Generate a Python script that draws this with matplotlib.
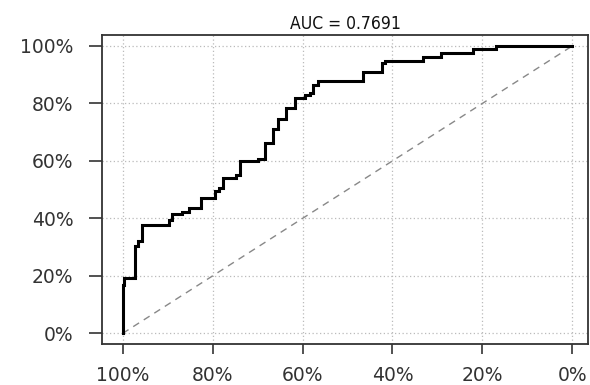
import matplotlib
matplotlib.use("Agg")
import matplotlib.pyplot as plt
from matplotlib.ticker import FuncFormatter

# ROC points (specificity %, sensitivity %)
specificity = [100, 100, 99.6, 97.3, 96.7, 95.6, 89.6, 89.1, 86.9, 85.3, 82.6,
               79.5, 78.5, 77.8, 74.7, 73.9, 69.9, 68.4, 66.5, 65.4, 63.6,
               61.7, 59.5, 58.4, 57.6, 56.5, 46.5, 42.4, 41.7, 33.2, 29.1,
               22.1, 16.9, 0]
sensitivity = [0, 17.0, 19.3, 30.5, 32.3, 37.8, 39.5, 41.5, 42.1, 43.6, 47.1,
               49.4, 50.6, 54.1, 55.2, 59.9, 60.7, 66.3, 71.2, 74.7, 78.5,
               82.0, 82.8, 83.7, 86.3, 87.8, 90.8, 94.0, 94.7, 96.3, 97.5,
               99.1, 100, 100]
auc = 0.7691
tick_values = [0, 20, 40, 60, 80, 100]

fig = plt.figure(figsize=(5.9, 3.85), dpi=100)
ax = fig.add_axes([0.1729, 0.1065, 0.8245, 0.8025])

# grid like R's grid()
for v in tick_values:
    ax.axvline(v, color="#bbbbbb", lw=0.9, ls=(0, (1, 2)), zorder=0)
    ax.axhline(v, color="#bbbbbb", lw=0.9, ls=(0, (1, 2)), zorder=0)

# chance line
ax.plot([100, 0], [0, 100], color="#888888", lw=1.0, ls=(0, (5, 4)), zorder=1)

# the ROC curve
ax.plot(specificity, sensitivity, drawstyle="steps-post", color="black",
        lw=2.2, solid_joinstyle="miter", zorder=2)

ax.set_xlim(104.6, -3.6)
ax.set_ylim(-3.7, 103.8)
ax.set_xticks(tick_values)
ax.set_yticks(tick_values)
pct = FuncFormatter(lambda v, p: f"{v:.0f}%")
ax.xaxis.set_major_formatter(pct)
ax.yaxis.set_major_formatter(pct)

ax.tick_params(axis="x", length=7.5, width=1.2, color="#333333", pad=8,
               labelsize=13.5, labelcolor="#333333")
ax.tick_params(axis="y", length=9.5, width=1.2, color="#333333", pad=11,
               labelsize=13.5, labelcolor="#333333")

for s in ax.spines.values():
    s.set_color("#333333")
    s.set_linewidth(1.3)

ax.set_title(f"AUC = {auc}", fontsize=12.5, pad=4, fontstretch="condensed",
             family="DejaVu Sans", color="#111111")

fig.savefig("out.png", dpi=100)
